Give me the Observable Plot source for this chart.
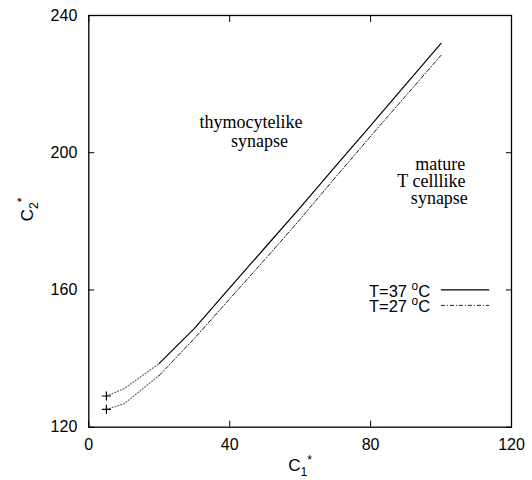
<!DOCTYPE html>
<html>
<head>
<meta charset="utf-8">
<script src="https://cdn.jsdelivr.net/npm/d3@7"></script>
<script src="https://cdn.jsdelivr.net/npm/@observablehq/plot@0.6"></script>
<style>
  html, body { margin: 0; padding: 0; background: #fff; }
  #chart svg { display: block; }
</style>
</head>
<body>
<div id="chart"></div>
<script>
// ---- data ----
const c1 = [5, 10, 20, 30, 40, 50, 60, 70, 80, 90, 100];
const c2T37 = [129.1, 131.2, 138.6, 148.8, 160.6, 172.3, 184.0, 196.0, 207.9, 219.9, 231.9];
const c2T27 = [125.2, 126.8, 135.1, 145.9, 157.4, 168.9, 180.6, 192.8, 204.8, 216.6, 228.4];
const solidStart = 20; // below this C1* value the curves are drawn dotted
const seriesNames = ["T=37 ^{o}C", "T=27 ^{o}C"];
const xTicks = [0, 40, 80, 120];
const yTicks = [120, 160, 200, 240];
// region labels (each block is a list of lines)
const annotLines = [["thymocytelike", "synapse"], ["mature", "T celllike", "synapse"]];
const annotIndent = [[0, 7], [4, 0, 3]];          // leading spaces per line, as in the original labels
const annotX = [31.4, 87.6];
const annotY = [205.7, 191.1];
const annotLineHeight = [1.03, 0.945];
const legendRowY = [160, 155.5];
const legendTextX = 96.9;
const legendLineX = [100.1, 113.8];

// ---- build tables ----
const rows = [];
[c2T37, c2T27].forEach((ys, s) => c1.forEach((x, i) => rows.push({x, y: ys[i], s: seriesNames[s]})));
const dotted = rows.filter(d => d.x <= solidStart);
const main37 = rows.filter(d => d.s === seriesNames[0] && d.x >= solidStart);
const main27 = rows.filter(d => d.s === seriesNames[1] && d.x >= solidStart);
const starts = rows.filter(d => d.x === c1[0]);
const annots = annotLines.map((lines, b) => ({
  t: lines.map((l, j) => "\u00A0".repeat(annotIndent[b][j]) + l).join("\n"),
  x: annotX[b], y: annotY[b], lh: annotLineHeight[b]
}));
const legendBlock = [{t: seriesNames.join("\n"), x: legendTextX, y: d3.mean(legendRowY)}];

const sans = "'Liberation Sans', Arial, Helvetica, sans-serif";
const serif = "'Liberation Serif', 'Times New Roman', Times, serif";

const chart = Plot.plot({
  width: 532,
  height: 480,
  marginLeft: 88.3,
  marginRight: 21,
  marginTop: 15,
  marginBottom: 53.3,
  style: {fontFamily: sans, fontSize: "16px", background: "#fff", color: "#000"},
  x: {domain: [0, 120]},
  y: {domain: [120, 240]},
  marks: [
    // inward ticks on all four sides
    Plot.axisX(xTicks, {anchor: "bottom", tickSize: -6, fill: "none", label: null}),
    Plot.axisX(xTicks, {anchor: "top", tickSize: -6, fill: "none", label: null}),
    Plot.axisY(yTicks, {anchor: "left", tickSize: -6, fill: "none", label: null}),
    Plot.axisY(yTicks, {anchor: "right", tickSize: -6, fill: "none", label: null}),
    // tick labels
    Plot.axisX(xTicks, {anchor: "bottom", tickSize: 0, tickPadding: 11.5, label: null, fontSize: 16}),
    Plot.axisY(yTicks, {anchor: "left", tickSize: 0, tickPadding: 11.5, label: null, fontSize: 16}),
    Plot.frame({stroke: "#000", strokeWidth: 1.3}),
    // curves
    Plot.line(dotted, {x: "x", y: "y", z: "s", stroke: "#555", strokeWidth: 1.1, strokeDasharray: "1,2"}),
    Plot.line(main37, {x: "x", y: "y", stroke: "#000", strokeWidth: 1.2}),
    Plot.line(main27, {x: "x", y: "y", stroke: "#222", strokeWidth: 1, strokeDasharray: "4,2,1,2"}),
    Plot.dot(starts, {x: "x", y: "y", symbol: "plus", r: 3, stroke: "#000", strokeWidth: 1.2}),
    // region annotations
    Plot.text([annots[0]], {x: "x", y: "y", text: "t", fontFamily: serif, fontSize: 18, textAnchor: "start", lineHeight: annots[0].lh, dy: -1.6, fill: "#000"}),
    Plot.text([annots[1]], {x: "x", y: "y", text: "t", fontFamily: serif, fontSize: 18, textAnchor: "start", lineHeight: annots[1].lh, dy: -1.6, fill: "#000"}),
    // legend
    Plot.text(legendBlock, {x: "x", y: "y", text: "t", textAnchor: "end", lineHeight: 0.92, dy: 2, fontSize: 16.5, fill: "#000"}),
    Plot.ruleY([legendRowY[0]], {x1: legendLineX[0], x2: legendLineX[1], stroke: "#000", strokeWidth: 1.2}),
    Plot.ruleY([legendRowY[1]], {x1: legendLineX[0], x2: legendLineX[1], stroke: "#222", strokeWidth: 1, strokeDasharray: "4,2,1,2"}),
    // axis titles
    Plot.text(["C_{1}^{*}"], {frameAnchor: "bottom", dy: 43.5, fontSize: 17, fill: "#000"}),
    Plot.text(["C_{2}^{*}"], {frameAnchor: "left", dx: -61, rotate: -90, fontSize: 17, fill: "#000"})
  ]
});

document.getElementById("chart").appendChild(chart);

// make sure the region annotations use the serif face
d3.select(chart).selectAll("text").each(function () {
  if (annotLines.flat().some(l => this.textContent.includes(l))) this.style.fontFamily = serif;
});

// turn ^{..} and _{..} markup into real super/subscript tspans
function richify(node, fs) {
  const s = node.textContent;
  if (!/[_^]\{/.test(s)) return;
  const re = /([_^])\{([^}]*)\}|([^_^]+)/g;
  const parts = [];
  let m;
  while ((m = re.exec(s))) parts.push(m[3] != null ? {t: m[3], k: 0} : {t: m[2], k: m[1] === "^" ? 1 : -1});
  const el = d3.select(node);
  el.text("");
  let cur = 0;
  for (const p of parts) {
    const target = p.k === 1 ? 0.42 * fs : p.k === -1 ? -0.3 * fs : 0;
    const ts = el.append("tspan").text(p.t);
    const dy = -(target - cur);
    if (dy !== 0) ts.attr("dy", dy);
    if (p.k !== 0) ts.attr("font-size", 0.72 * fs);
    cur = target;
  }
}
d3.select(chart).selectAll("text").each(function () {
  const fs = parseFloat(getComputedStyle(this).fontSize) || 16;
  const lines = this.querySelectorAll(":scope > tspan");
  if (lines.length) lines.forEach(l => richify(l, fs));
  else richify(this, fs);
});
</script>
</body>
</html>
